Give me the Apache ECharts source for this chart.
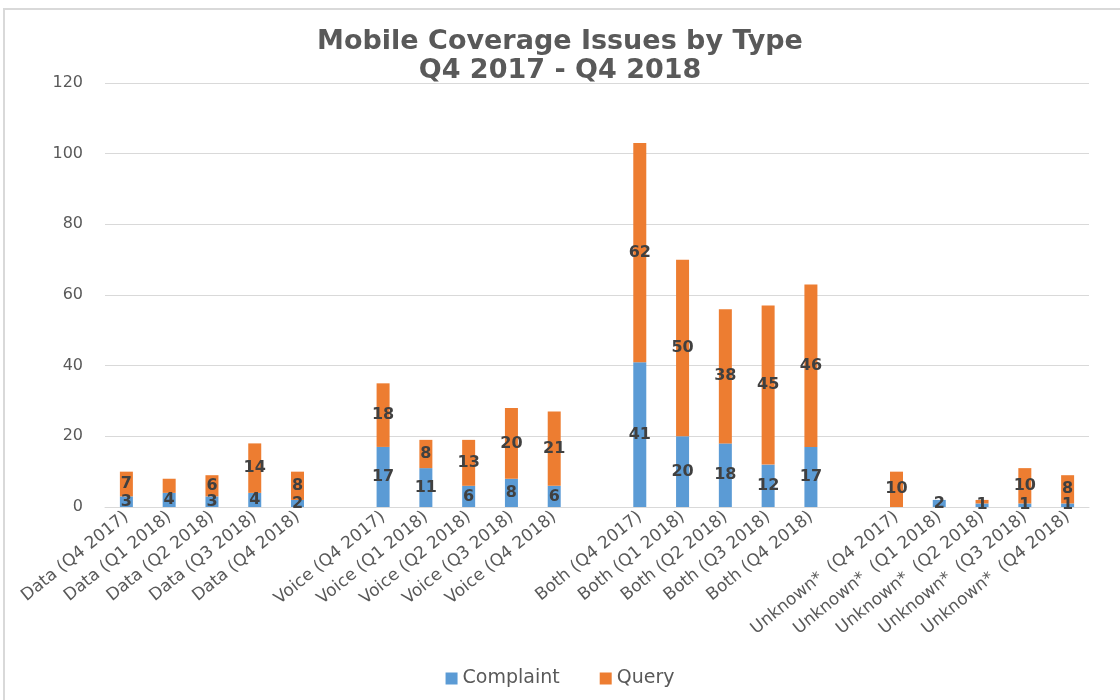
<!DOCTYPE html>
<html>
<head>
<meta charset="utf-8">
<script src="https://cdn.jsdelivr.net/npm/echarts@6/dist/echarts.min.js"></script>
<style>
html,body{margin:0;padding:0;background:#fff;}
#chart{width:1120px;height:700px;}
</style>
</head>
<body>
<div id="chart"></div>
<script>
var categories = [
  'Data (Q4 2017)','Data (Q1 2018)','Data (Q2 2018)','Data (Q3 2018)','Data (Q4 2018)','',
  'Voice (Q4 2017)','Voice (Q1 2018)','Voice (Q2 2018)','Voice (Q3 2018)','Voice (Q4 2018)',' ',
  'Both (Q4 2017)','Both (Q1 2018)','Both (Q2 2018)','Both (Q3 2018)','Both (Q4 2018)','  ',
  'Unknown*  (Q4 2017)','Unknown*  (Q1 2018)','Unknown*  (Q2 2018)','Unknown*  (Q3 2018)','Unknown*  (Q4 2018)'
];
var complaint = [3,4,3,4,2,'-',17,11,6,8,6,'-',41,20,18,12,17,'-',0,2,1,1,1];
var query     = [7,4,6,14,8,'-',18,8,13,20,21,'-',62,50,38,45,46,'-',10,0,1,10,8];
var yTicks = [0,20,40,60,80,100,120];

var chart = echarts.init(document.getElementById('chart'), null, {renderer:'canvas'});
var labelStyle = {
  show: true,
  position: 'inside',
  fontFamily: 'DejaVu Sans',
  fontWeight: 'bold',
  fontSize: 16,
  color: '#404040',
  formatter: function(p){ return (p.value === 0 || p.value === '-') ? '' : p.value; }
};
chart.setOption({
  animation: false,
  backgroundColor: '#ffffff',
  graphic: [{
    type: 'rect',
    shape: {x: 4, y: 9, width: 1130, height: 700},
    style: {fill: 'none', stroke: '#d9d9d9', lineWidth: 2},
    silent: true
  }],
  title: {
    text: 'Mobile Coverage Issues by Type\nQ4 2017 - Q4 2018',
    left: 'center',
    top: 22,
    textStyle: {
      fontFamily: 'DejaVu Sans',
      fontSize: 27,
      fontWeight: 'bold',
      color: '#595959',
      lineHeight: 29
    }
  },
  legend: {
    bottom: 7,
    left: 'center',
    itemWidth: 12,
    itemHeight: 12,
    itemGap: 40,
    icon: 'rect',
    textStyle: {fontFamily: 'DejaVu Sans', fontSize: 19, color: '#595959'},
    data: ['Complaint','Query']
  },
  grid: {left: 105, right: 31, top: 83, bottom: 193, containLabel: false},
  xAxis: {
    type: 'category',
    data: categories,
    axisTick: {show: false},
    axisLine: {lineStyle: {color: '#d9d9d9', width: 1}},
    axisLabel: {
      interval: 0,
      rotate: 39,
      fontFamily: 'DejaVu Sans',
      fontSize: 17,
      color: '#595959',
      margin: 8
    }
  },
  yAxis: {
    type: 'value',
    min: yTicks[0],
    max: yTicks[yTicks.length-1],
    interval: 20,
    axisLine: {show: false},
    axisTick: {show: false},
    splitLine: {lineStyle: {color: '#d9d9d9', width: 1}},
    axisLabel: {
      fontFamily: 'DejaVu Sans',
      fontSize: 16,
      color: '#595959',
      margin: 22
    }
  },
  series: [
    {
      name: 'Complaint',
      type: 'bar',
      stack: 'total',
      data: complaint,
      barWidth: 13,
      itemStyle: {color: '#5b9bd5'},
      label: labelStyle,
      labelLayout: {hideOverlap: true}
    },
    {
      name: 'Query',
      type: 'bar',
      stack: 'total',
      data: query,
      barWidth: 13,
      itemStyle: {color: '#ed7d31'},
      label: labelStyle,
      labelLayout: {hideOverlap: true}
    }
  ]
});
</script>
</body>
</html>
